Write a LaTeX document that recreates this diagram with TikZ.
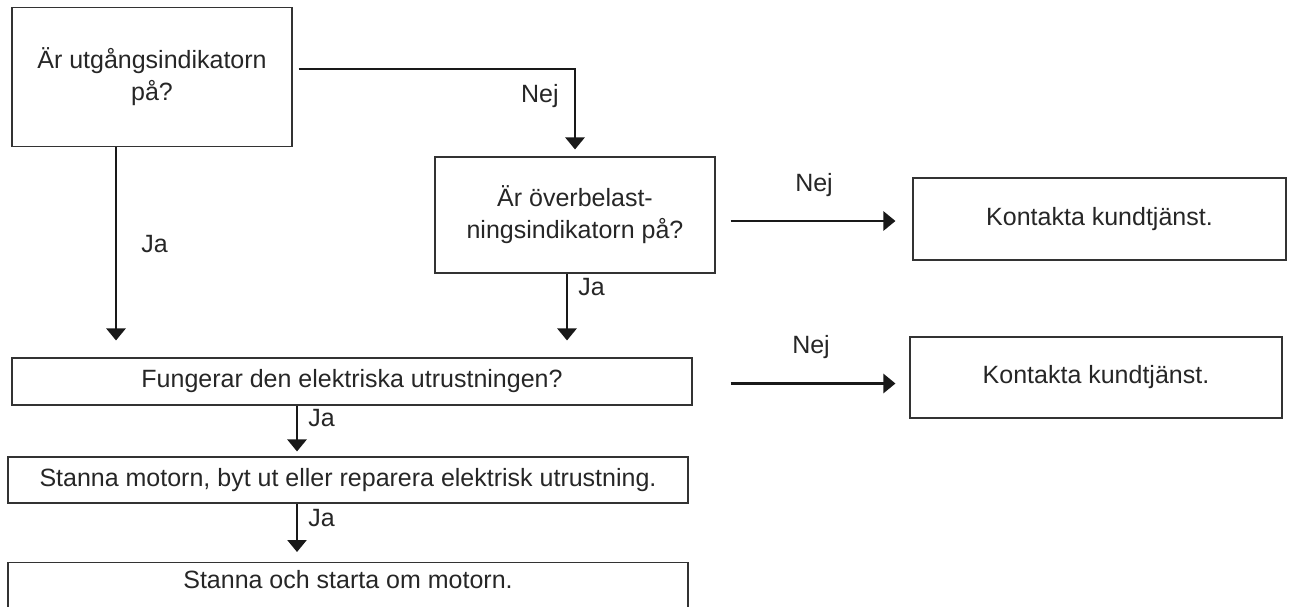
\documentclass[tikz,border=0pt]{standalone}
\usepackage{fontspec}
\setmainfont{Liberation Sans}
\usetikzlibrary{arrows.meta, positioning, calc}

\begin{document}
\begin{tikzpicture}[x=1pt, y=-1pt,
		box/.style={draw=black!80, line width=1.1pt, inner sep=0pt, align=center,
			text=black!85, font=\fontsize{25}{32}\selectfont},
		lbl/.style={text=black!85, font=\fontsize{25}{29}\selectfont, inner sep=0pt},
		arr/.style={draw=black!90, line width=2.6pt, -{Triangle[width=19pt, length=12pt]}}]
	\useasboundingbox (0,0) rectangle (1289,606);
	\clip (0,0) rectangle (1289,606);

	\node[box, minimum width=280pt, minimum height=139pt] (q1) at (152,77) {Är utgångsindikatorn\\på?};
	\node[box, minimum width=280pt, minimum height=116pt] (q2) at (575,215) {Är överbelast-\\ningsindikatorn på?};
	\node[box, minimum width=373pt, minimum height=82pt] (k1) at (1099.5,219) {Kontakta kundtjänst.};
	\node[box, minimum width=680pt, minimum height=47pt] (q3) at (352,381.5) {Fungerar den elektriska utrustningen?};
	\node[box, minimum width=372pt, minimum height=81pt] (k2) at (1096,377.5) {Kontakta kundtjänst.};
	\node[box, minimum width=680pt, minimum height=46pt] (s1) at (348,480) {Stanna motorn, byt ut eller reparera elektrisk utrustning.};
	\node[box, minimum width=680pt, anchor=north, inner ysep=9pt, text height=17pt, text depth=45pt] (s2) at (348,562) {Stanna och starta om motorn.};

	\begin{scope}[arr]
		\draw ([xshift=6pt,yshift=8pt]q1.east) -| ([yshift=7pt]q2.north) node[lbl, pos=0.67, left=15pt] {Nej};
		\draw ([xshift=-36pt]q1.south) coordinate (a1) -- ($(a1 |- q3.north)+(0,17pt)$) node[lbl, midway, right=24pt] {Ja};
		\draw ([xshift=-8pt]q2.south) coordinate (a2) -- ($(a2 |- q3.north)+(0,17pt)$) node[lbl, pos=0.2, right=10pt] {Ja};
		\draw[shorten <=15pt, shorten >=17pt] ($(q2.east)+(0,-6pt)$) coordinate (b1) -- (b1 -| k1.west) node[lbl, midway, yshift=36pt] {Nej};
		\draw[shorten <=38pt, shorten >=14pt] ($(q3.east)+(0,-2pt)$) coordinate (b2) -- (b2 -| k2.west) node[lbl, midway, xshift=10pt, yshift=36pt] {Nej};
		\draw ($(q3.south)+(-55pt,0)$) coordinate (a3) -- ($(a3 |- s1.north)+(0,5pt)$) node[lbl, pos=0.28, right=10pt] {Ja};
		\draw ($(s1.south)+(-51pt,0)$) coordinate (a4) -- ($(a4 |- s2.north)+(0,10pt)$) node[lbl, pos=0.29, right=10pt] {Ja};
	\end{scope}
\end{tikzpicture}
\end{document}
